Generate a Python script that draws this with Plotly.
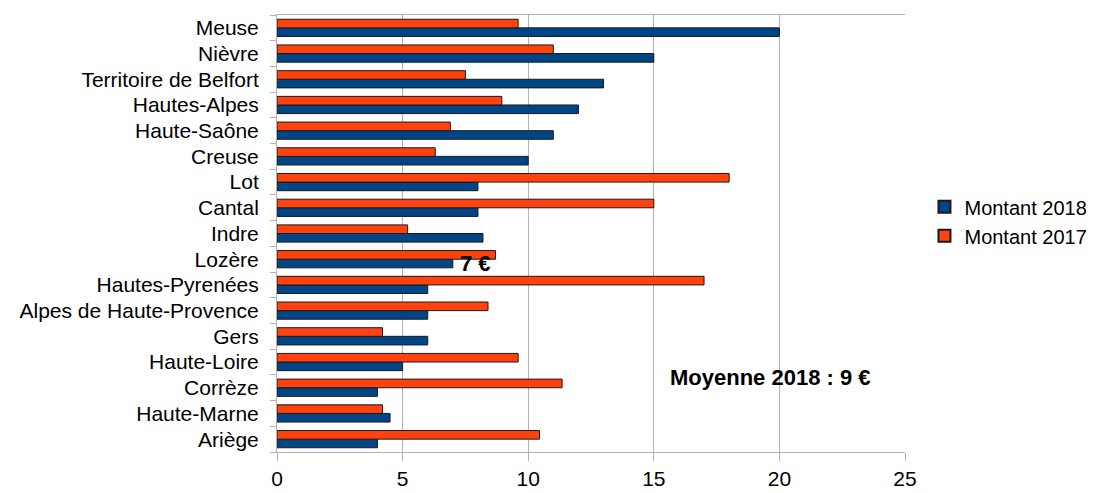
import plotly.graph_objects as go

categories = ["Meuse", "Nièvre", "Territoire de Belfort", "Hautes-Alpes", "Haute-Saône",
              "Creuse", "Lot", "Cantal", "Indre", "Lozère", "Hautes-Pyrenées",
              "Alpes de Haute-Provence", "Gers", "Haute-Loire", "Corrèze",
              "Haute-Marne", "Ariège"]
montant_2018 = [20, 15, 13, 12, 11, 10, 8, 8, 8.2, 7, 6, 6, 6, 5, 4, 4.5, 4]
montant_2017 = [9.6, 11, 7.5, 8.95, 6.9, 6.3, 18, 15, 5.2, 8.7, 17, 8.4, 4.2, 9.6, 11.35, 4.2, 10.45]
x_ticks = [0, 5, 10, 15, 20, 25]

# bottom-to-top order for plotly
cats_r = categories[::-1]
v18 = montant_2018[::-1]
v17 = montant_2017[::-1]

fig = go.Figure()
fig.add_trace(go.Bar(y=cats_r, x=v18, orientation="h", name="Montant 2018",
                     marker=dict(color="#004586", line=dict(color="#1a1a1a", width=1))))
fig.add_trace(go.Bar(y=cats_r, x=v17, orientation="h", name="Montant 2017",
                     marker=dict(color="#ff420e", line=dict(color="#1a1a1a", width=1))))

fig.update_layout(
    width=1096, height=493,
    margin=dict(l=269, r=199, t=7, b=49),
    paper_bgcolor="white", plot_bgcolor="white",
    barmode="group", bargap=0.33, bargroupgap=0,
    font=dict(family="Liberation Sans, Arial, sans-serif", size=21, color="#000"),
    legend=dict(x=1.031, y=0.528, xanchor="left", yanchor="middle",
                font=dict(size=20), itemsizing="constant"),
    xaxis=dict(range=[0, 25], tickvals=x_ticks, showgrid=True, gridcolor="#b3b3b3",
               gridwidth=1, zeroline=False, showline=True, linecolor="#b3b3b3",
               mirror=True, ticks="outside", ticklen=8, tickcolor="#b3b3b3",
               tickfont=dict(size=21)),
    yaxis=dict(showgrid=False, showline=True, linecolor="#b3b3b3", ticks="outside",
               ticklen=6, tickcolor="#b3b3b3", tickson="boundaries",
               tickfont=dict(size=21), ticklabelstandoff=13),
)

fig.add_annotation(x=7.22, y="Lozère", yshift=-4, text="<b>7 €</b>", showarrow=False,
                   xanchor="left", font=dict(size=22, color="#000"))
fig.add_annotation(x=15.55, y="Haute-Loire", yshift=-15, text="<b>Moyenne 2018 : 9 €</b>",
                   showarrow=False, xanchor="left", font=dict(size=22, color="#000"))

fig.write_html("out.html")
